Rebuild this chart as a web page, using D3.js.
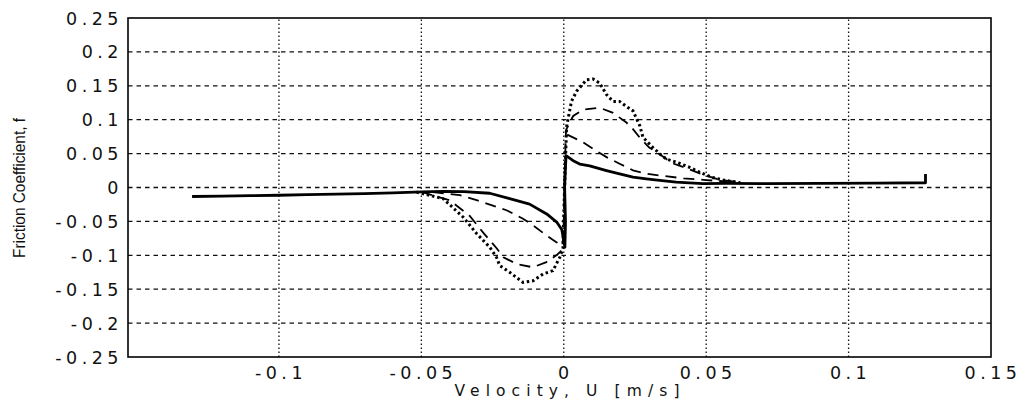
<!DOCTYPE html>
<html>
<head>
<meta charset="utf-8">
<script src="https://cdn.jsdelivr.net/npm/d3@7/dist/d3.min.js"></script>
<style>
  body { margin: 0; background: #fff; }
  .tick-label { font-family: "DejaVu Sans", sans-serif; font-size: 17.5px; letter-spacing: 4.5px; fill: #111; }
</style>
</head>
<body>
<svg id="chart" width="1025" height="400" viewBox="0 0 1025 400"></svg>
<script>
// tick values
const xTicks = [-0.1, -0.05, 0, 0.05, 0.1, 0.15]
const yTicks = [0.25, 0.2, 0.15, 0.1, 0.05, 0, -0.05, -0.1, -0.15, -0.2, -0.25]
const xTickLabels = ["-0.1", "-0.05", "0", "0.05", "0.1", "0.15"]
const yTickLabels = ["0.25", "0.2", "0.15", "0.1", "0.05", "0", "-0.05", "-0.1", "-0.15", "-0.2", "-0.25"]

// [U, f]
// shared low-velocity part on the negative side
const commonNeg = [[-0.1305,-0.0133],[-0.12,-0.0128],[-0.11,-0.012],[-0.1,-0.0114],[-0.09,-0.0105],
  [-0.08,-0.0098],[-0.07,-0.009],[-0.06,-0.0078],[-0.05,-0.0066]]

// solid curve
const solidCurve = [[-0.05,-0.0066],[-0.0425,-0.0056],[-0.035,-0.006],[-0.026,-0.0085],[-0.019,-0.0165],
  [-0.012,-0.0245],[-0.006,-0.039],[-0.0025,-0.051],[-0.0007,-0.062],[0.0,-0.078],[0.0004,-0.088],
  [0.0006,-0.05],[0.0003,0.0],[0.0006,0.03],[0.0008,0.047],[0.0033,0.0395],[0.0056,0.0346],
  [0.0091,0.032],[0.015,0.025],[0.0196,0.020],[0.0243,0.0153],[0.029,0.0128],[0.0337,0.0105],
  [0.0395,0.008],[0.0488,0.0058],[0.057,0.0062],[0.07,0.0058],[0.09,0.0062],[0.11,0.0066],
  [0.127,0.007],[0.127,0.02]]

// dashed curve, outer loop and inner branches
const dashedOuter = [[-0.05,-0.0066],[-0.04,-0.019],[-0.033,-0.042],[-0.028,-0.068],[-0.0235,-0.09],
  [-0.0212,-0.1028],[-0.0166,-0.1128],[-0.0108,-0.1177],[-0.0061,-0.110],[-0.0026,-0.100],
  [-0.0005,-0.092],[0.0,-0.05],[0.0003,0.02],[0.0008,0.085],[0.0033,0.1055],[0.0068,0.115],
  [0.0126,0.1176],[0.0173,0.110],[0.022,0.0958],[0.0243,0.086],[0.0267,0.0735],[0.030,0.059],
  [0.0337,0.049],[0.038,0.036],[0.044,0.027],[0.0495,0.018],[0.055,0.011],[0.062,0.008]]
const dashedInnerNeg = [[-0.046,-0.0068],[-0.0365,-0.0113],[-0.0306,-0.0187],[-0.0236,-0.0286],
  [-0.0201,-0.0335],[-0.0143,-0.046],[-0.0108,-0.0558],[-0.0061,-0.0706],[-0.0026,-0.0806],[-0.0005,-0.086]]
const dashedInnerPos = [[0.0012,0.078],[0.0068,0.0666],[0.0103,0.0569],[0.015,0.0448],[0.0196,0.035],
  [0.0243,0.0254],[0.029,0.0204],[0.035,0.017],[0.042,0.0135],[0.05,0.011],[0.058,0.0085]]

// dotted curve
const dottedCurve = [[-0.0517,-0.0068],[-0.0424,-0.0163],[-0.0353,-0.0438],[-0.0306,-0.068],
  [-0.026,-0.088],[-0.0236,-0.103],[-0.0225,-0.115],[-0.019,-0.125],[-0.0143,-0.140],
  [-0.0108,-0.1377],[-0.0073,-0.1276],[-0.0038,-0.1226],[-0.0014,-0.103],[-0.0003,-0.09],
  [0.0,-0.04],[0.0005,0.03],[0.001,0.09],[0.0027,0.127],[0.0045,0.142],[0.008,0.159],
  [0.0103,0.160],[0.0126,0.154],[0.015,0.137],[0.0173,0.127],[0.0196,0.127],[0.0218,0.120],
  [0.0243,0.113],[0.0267,0.091],[0.0278,0.074],[0.0313,0.059],[0.0337,0.0496],[0.036,0.042],
  [0.0395,0.0375],[0.044,0.03],[0.0477,0.0226],[0.052,0.015],[0.056,0.011],[0.062,0.007]]

const svg = d3.select("#chart")
const margin = {left: 128, right: 34, top: 18, bottom: 43}
const width = 1025, height = 400

const x = d3.scaleLinear().domain([-0.153, 0.15]).range([margin.left, width - margin.right])
const y = d3.scaleLinear().domain([-0.25, 0.25]).range([height - margin.bottom, margin.top])

const plot = svg.append("g")

// grid
plot.append("g").selectAll("line")
  .data(yTicks.filter(d => Math.abs(d) < 0.25))
  .enter().append("line")
  .attr("x1", x.range()[0]).attr("x2", x.range()[1])
  .attr("y1", d => y(d)).attr("y2", d => y(d))
  .attr("stroke", "#111").attr("stroke-width", 1.3)
  .attr("stroke-dasharray", "4.5,4")

plot.append("g").selectAll("line")
  .data(xTicks.filter(d => d < 0.15))
  .enter().append("line")
  .attr("x1", d => x(d)).attr("x2", d => x(d))
  .attr("y1", y.range()[0]).attr("y2", y.range()[1])
  .attr("stroke", "#111").attr("stroke-width", 1.3)
  .attr("stroke-dasharray", "1.5,2.5")

// curves
const line = d3.line().x(d => x(d[0])).y(d => y(d[1]))

plot.append("path").datum(commonNeg.concat(solidCurve))
  .attr("d", line).attr("fill", "none").attr("stroke", "#000")
  .attr("stroke-width", 2.8).attr("stroke-linejoin", "round")

const dashedParts = [dashedOuter, dashedInnerNeg, dashedInnerPos]
plot.append("g").selectAll("path").data(dashedParts).enter().append("path")
  .attr("d", line).attr("fill", "none").attr("stroke", "#000")
  .attr("stroke-width", 1.8).attr("stroke-dasharray", "11,7")

plot.append("path").datum(dottedCurve)
  .attr("d", line).attr("fill", "none").attr("stroke", "#000")
  .attr("stroke-width", 3).attr("stroke-dasharray", "2.5,2.8")

// frame
plot.append("rect")
  .attr("x", x.range()[0]).attr("y", y.range()[1])
  .attr("width", x.range()[1] - x.range()[0])
  .attr("height", y.range()[0] - y.range()[1])
  .attr("fill", "none").attr("stroke", "#000").attr("stroke-width", 1.6)

// tick labels
svg.append("g").selectAll("text").data(yTicks).enter().append("text")
  .attr("class", "tick-label")
  .attr("x", 123).attr("y", d => y(d) + 6.5)
  .attr("text-anchor", "end")
  .text((d, i) => yTickLabels[i])

svg.append("g").selectAll("text").data(xTicks).enter().append("text")
  .attr("class", "tick-label")
  .attr("x", d => x(d) + 2).attr("y", 379)
  .attr("text-anchor", "middle")
  .text((d, i) => xTickLabels[i])

// axis titles
svg.append("text")
  .attr("x", 567).attr("y", 396)
  .attr("text-anchor", "middle")
  .attr("font-family", "DejaVu Sans, sans-serif").attr("font-size", 15.5)
  .attr("textLength", 225).attr("lengthAdjust", "spacing")
  .attr("fill", "#111")
  .text("Velocity, U [m/s]")

svg.append("text")
  .attr("transform", "translate(25,188) rotate(-90)")
  .attr("text-anchor", "middle")
  .attr("font-family", "Liberation Sans Narrow, Arial Narrow, sans-serif").attr("font-size", 17)
  .attr("textLength", 140).attr("lengthAdjust", "spacingAndGlyphs")
  .attr("fill", "#111")
  .text("Friction Coefficient, f")
</script>
</body>
</html>
